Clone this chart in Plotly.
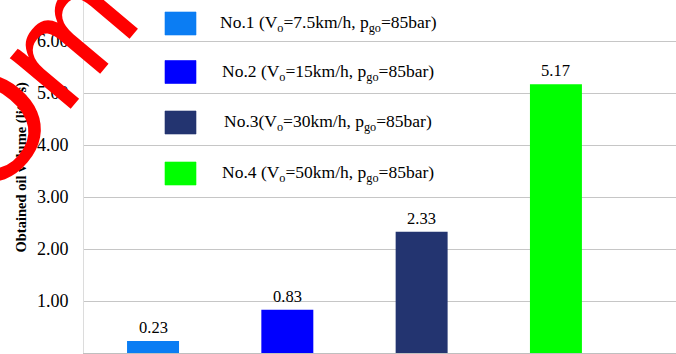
import plotly.graph_objects as go

# Oil recovery runs
runs = ["No.1", "No.2", "No.3", "No.4"]
oil_volume = [0.23, 0.83, 2.33, 5.17]
run_labels = [
    "No.1 (V<sub>o</sub>=7.5km/h, p<sub>go</sub>=85bar)",
    "No.2 (V<sub>o</sub>=15km/h, p<sub>go</sub>=85bar)",
    "No.3(V<sub>o</sub>=30km/h, p<sub>go</sub>=85bar)",
    "No.4 (V<sub>o</sub>=50km/h, p<sub>go</sub>=85bar)",
]
bar_colors = ["#0B7DF3", "#0000FF", "#233470", "#00FF00"]
y_ticks = [1, 2, 3, 4, 5, 6]
y_title = "Obtained oil volume (liters)"

W, H = 676, 354
ML, MR, MT, MB = 84, 0, 0, 1
plot_w = W - ML - MR
plot_h = H - MT - MB
SERIF = "Liberation Serif"


def px_x(px):
    return (px - ML) / plot_w


def px_y(py):
    return (H - MB - py) / plot_h


fig = go.Figure()
fig.add_trace(go.Bar(
    x=runs,
    y=oil_volume,
    width=0.387,
    marker=dict(color=bar_colors, line=dict(width=0)),
    showlegend=False,
))

annotations = []
# value labels above each bar
for r, v in zip(runs, oil_volume):
    annotations.append(dict(
        text=f"{v:.2f}", x=r, y=v, xref="x", yref="y",
        xanchor="center", yanchor="bottom", yshift=2, showarrow=False,
        font=dict(family=SERIF, size=16.5, color="black"),
    ))

# Legend block drawn as swatches + centred labels
shapes = []
row_centres = [23.5, 72, 122.5, 173.5]
for lab, col, cy in zip(run_labels, bar_colors, row_centres):
    shapes.append(dict(
        type="rect", xref="paper", yref="paper",
        x0=px_x(165), x1=px_x(196), y0=px_y(cy + 11.5), y1=px_y(cy - 11.5),
        fillcolor=col, line=dict(width=0.6, color=col), layer="above",
    ))
    annotations.append(dict(
        text=lab, xref="paper", yref="paper",
        x=px_x(328), y=px_y(cy), xanchor="center", yanchor="middle",
        showarrow=False, font=dict(family=SERIF, size=17.5, color="black"),
    ))

# y-axis title
annotations.append(dict(
    text=f"<b>{y_title}</b>", xref="paper", yref="paper",
    x=px_x(21), y=px_y(167.5), xanchor="center", yanchor="middle",
    textangle=-90, showarrow=False,
    font=dict(family=SERIF, size=14.5, color="black"),
))

# Large red overlay lettering
annotations.append(dict(
    text="Om", xref="paper", yref="paper",
    x=px_x(27), y=px_y(80), xanchor="center", yanchor="middle",
    textangle=-50, showarrow=False,
    font=dict(family="Liberation Sans", size=150, color="#FF0000"),
))

fig.update_layout(
    width=W, height=H,
    margin=dict(l=ML, r=MR, t=MT, b=MB, pad=0),
    paper_bgcolor="white", plot_bgcolor="white",
    shapes=shapes,
    annotations=annotations,
    xaxis=dict(
        type="category",
        range=[-0.514, 3.894],
        showticklabels=False, ticks="",
        showgrid=False, zeroline=False,
        showline=True, linecolor="#BFBFBF", linewidth=1.5,
    ),
    yaxis=dict(
        range=[0, plot_h / 52.0],
        tickvals=y_ticks,
        ticktext=[f"{t:.2f}" for t in y_ticks],
        tickfont=dict(family=SERIF, size=18, color="black"),
        ticks="", ticklabelstandoff=11,
        showgrid=True, gridcolor="#C6C6C6", gridwidth=1,
        zeroline=False,
        showline=True, linecolor="#DCDCDC", linewidth=1,
    ),
)

fig.write_html("out.html")
